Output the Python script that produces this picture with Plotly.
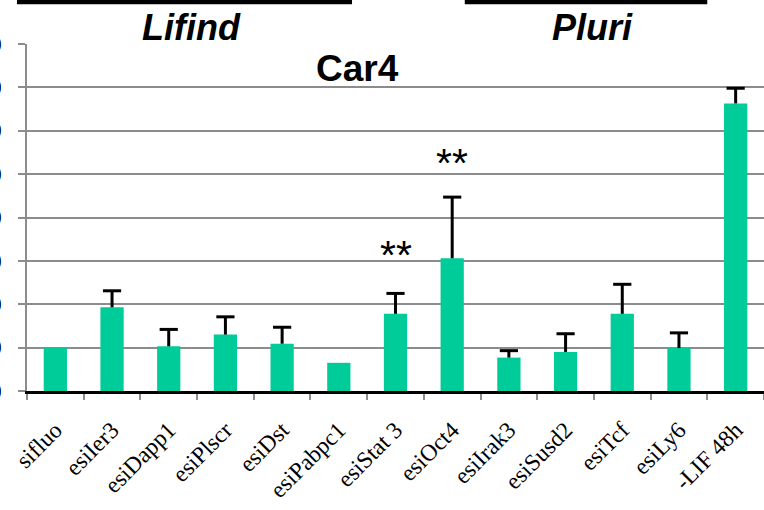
import plotly.graph_objects as go

categories = ["sifluo", "esiIer3", "esiDapp1", "esiPlscr", "esiDst", "esiPabpc1",
              "esiStat 3", "esiOct4", "esiIrak3", "esiSusd2", "esiTcf", "esiLy6", "-LIF 48h"]
values = [1.00, 1.93, 1.03, 1.30, 1.09, 0.65, 1.78, 3.06, 0.77, 0.90, 1.78, 0.99, 6.63]
errors = [0.00, 0.38, 0.39, 0.41, 0.38, 0.00, 0.47, 1.41, 0.16, 0.42, 0.68, 0.35, 0.35]
y_ticks = [0, 1, 2, 3, 4, 5, 6, 7, 8]
group_labels = ["Lifind", "Pluri"]
title_text = "Car4"
signif_cats = ["esiStat 3", "esiOct4"]
signif_text = "**"

BAR = "#00CC99"
GRID = "#8c8c8c"

fig = go.Figure()
fig.add_trace(go.Bar(x=categories, y=values, marker=dict(color=BAR, line=dict(width=0)),
                     width=0.41, hoverinfo="skip"))

# plus-only error bars: stems + caps
sx, sy, cx, cy = [], [], [], []
for c, v, e in zip(categories, values, errors):
    if e > 0:
        sx += [c, c, None]
        sy += [v, v + e, None]
        cx.append(c)
        cy.append(v + e)
fig.add_trace(go.Scatter(x=sx, y=sy, mode="lines", line=dict(color="black", width=3),
                         hoverinfo="skip", connectgaps=False))
fig.add_trace(go.Scatter(x=cx, y=cy, mode="markers",
                         marker=dict(symbol="line-ew", size=13, line=dict(color="black", width=3)),
                         hoverinfo="skip"))

annotations = [
    dict(text=title_text, xref="paper", yref="paper", x=0.448, y=0.928, showarrow=False,
         font=dict(family="Liberation Sans, Arial", size=37, color="black", weight="bold"),
         xanchor="center", yanchor="middle"),
    dict(text="<i>%s</i>" % group_labels[0], xref="paper", yref="paper", x=0.223, y=1.047,
         showarrow=False, xanchor="center", yanchor="middle",
         font=dict(family="Liberation Sans, Arial", size=36, color="black", weight="bold")),
    dict(text="<i>%s</i>" % group_labels[1], xref="paper", yref="paper", x=0.767, y=1.047,
         showarrow=False, xanchor="center", yanchor="middle",
         font=dict(family="Liberation Sans, Arial", size=36, color="black", weight="bold")),
    dict(text=signif_text, x=signif_cats[0], y=3.14, xref="x", yref="y", showarrow=False,
         xanchor="center", yanchor="middle",
         font=dict(family="Liberation Sans, Arial", size=41, color="black")),
    dict(text=signif_text, x=signif_cats[1], y=5.26, xref="x", yref="y", showarrow=False,
         xanchor="center", yanchor="middle",
         font=dict(family="Liberation Sans, Arial", size=41, color="black")),
]

shapes = [
    dict(type="line", xref="paper", yref="paper", x0=-0.0136, x1=0.441, y0=1.121, y1=1.121,
         line=dict(color="black", width=4.5)),
    dict(type="line", xref="paper", yref="paper", x0=0.594, x1=0.923, y0=1.121, y1=1.121,
         line=dict(color="black", width=4.5)),
]

fig.update_layout(
    width=764, height=510,
    margin=dict(l=27, r=0, t=44, b=119),
    paper_bgcolor="white", plot_bgcolor="white",
    showlegend=False,
    annotations=annotations, shapes=shapes,
    xaxis=dict(type="category", categoryorder="array", categoryarray=categories,
               range=[-0.5, len(categories) - 0.5], automargin=False,
               showline=True, linecolor="black", linewidth=3,
               ticks="outside", tickson="boundaries", ticklen=6, tickcolor=GRID, tickwidth=1.5,
               tickangle=-45, showgrid=False, ticklabelstandoff=13,
               tickfont=dict(family="Liberation Serif, Times New Roman, serif", size=23.5, color="black")),
    yaxis=dict(range=[0, 8], tickvals=y_ticks, tickformat=".1f", automargin=False,
               showline=True, linecolor=GRID, linewidth=1.5,
               showgrid=True, gridcolor=GRID, gridwidth=1.5, zeroline=False,
               ticks="outside", ticklen=7, tickcolor=GRID, tickwidth=1.5,
               ticklabelstandoff=12,
               tickfont=dict(family="Liberation Sans, Arial", size=22, color="black", weight="bold")),
)

fig.write_html("out.html")
